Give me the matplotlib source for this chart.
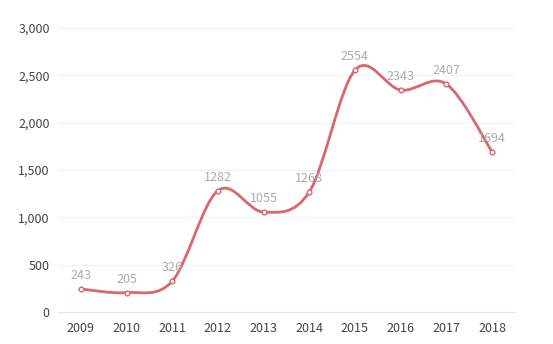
import numpy as np
import matplotlib.pyplot as plt
from matplotlib.path import Path
from matplotlib.patches import PathPatch
from matplotlib.ticker import FuncFormatter

years = ['2009', '2010', '2011', '2012', '2013', '2014', '2015', '2016', '2017', '2018']
values = [243, 205, 326, 1282, 1055, 1268, 2554, 2343, 2407, 1694]

LINE_COLOR = '#d9676b'
plt.rcParams['font.family'] = ['Noto Sans CJK SC', 'DejaVu Sans']

fig = plt.figure(figsize=(5.53, 3.44), dpi=100)
ax = fig.add_axes([0.105, 0.093, 0.826, 0.826])

x = np.arange(len(years))
y = np.array(values, dtype=float)

# smoothed line: cubic bezier segments, handles = (next - prev) / 6
cps = []
for i in range(len(x)):
    p = np.array([x[i], y[i]])
    a = max(i - 1, 0)
    b = min(i + 1, len(x) - 1)
    v = np.array([x[b] - x[a], y[b] - y[a]]) / 6.0
    cps.append((p - v, p + v))
verts = [(x[0], y[0])]
codes = [Path.MOVETO]
for i in range(len(x) - 1):
    verts += [tuple(cps[i][1]), tuple(cps[i + 1][0]), (x[i + 1], y[i + 1])]
    codes += [Path.CURVE4] * 3
ax.add_patch(PathPatch(Path(verts, codes), facecolor='none', edgecolor=LINE_COLOR,
                       lw=2.0, capstyle='round', zorder=3))

ax.plot(x, y, linestyle='none', marker='o', markersize=3.4, markerfacecolor='white',
        markeredgecolor=LINE_COLOR, markeredgewidth=1.0, zorder=4)

for xi, yi in zip(x, values):
    ax.annotate(str(yi), (xi, yi), xytext=(0, 5), textcoords='offset points',
                ha='center', va='bottom', fontsize=9, color='#ababab', zorder=5)

ax.set_xlim(-0.5, len(years) - 0.5)
ax.set_ylim(0, 3000)
ax.set_xticks(x)
ax.set_xticklabels(years)
ax.set_yticks(range(0, 3001, 500))
ax.yaxis.set_major_formatter(FuncFormatter(lambda v, _: f'{int(v):,}'))
ax.tick_params(length=0, labelsize=9, colors='#444444', pad=6)
ax.tick_params(axis='x', pad=7)
ax.grid(axis='y', color='#f2f2f2', lw=0.8)
ax.set_axisbelow(True)
for s in ['top', 'right', 'left']:
    ax.spines[s].set_visible(False)
ax.spines['bottom'].set_color('#e6e6e6')
ax.spines['bottom'].set_linewidth(0.8)

fig.savefig('out.png', dpi=100)
